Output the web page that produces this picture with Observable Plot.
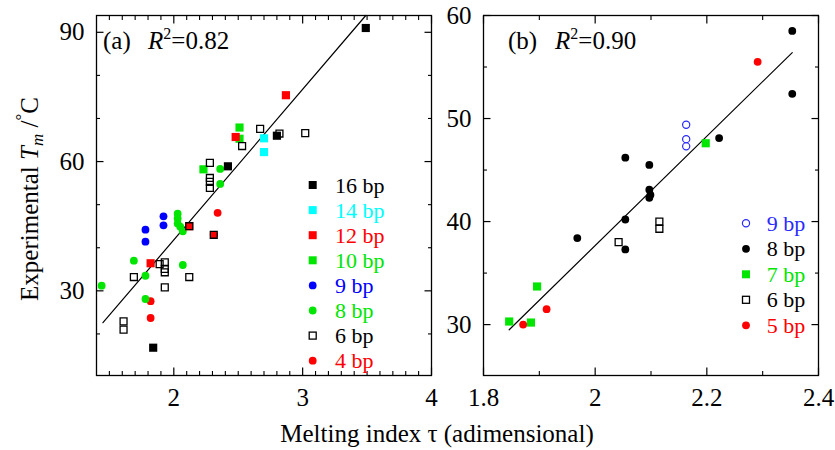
<!DOCTYPE html>
<html><head><meta charset="utf-8">
<script src="https://cdn.jsdelivr.net/npm/d3@7"></script>
<script src="https://cdn.jsdelivr.net/npm/@observablehq/plot@0.6"></script>
<style>
body{margin:0;background:#fff;}
#wrap{position:relative;width:835px;height:450px;font-family:"Liberation Serif","Times New Roman",serif;color:#000;}
#wrap svg, #wrap svg text, #wrap svg tspan{font-family:"Liberation Serif","Times New Roman",serif !important;}
#pa{position:absolute;left:0;top:0;}
#pb{position:absolute;left:440px;top:0;}
#xt{position:absolute;top:421px;left:437px;transform:translateX(-50%);font-size:25px;line-height:25px;white-space:nowrap;}
</style></head><body>
<div id="wrap"><div id="pa"></div><div id="pb"></div><div id="xt"></div></div>
<script>
// ---------- data: panel (a) ----------
const a_16bp = [[3.49,91.0],[2.80,66.0],[2.42,58.9],[1.84,16.8]];
const a_14bp = [[2.70,65.4],[2.70,62.2]];
const a_12bp = [[2.87,75.4],[2.48,65.7],[2.12,45.0],[1.82,36.4]];
const a_10bp = [[2.51,67.9],[2.51,65.3],[2.23,58.2]];
const a_9bp  = [[1.92,47.3],[1.92,45.2],[1.78,44.2],[1.78,41.4]];
const a_8bp  = [[2.36,58.3],[2.36,54.8],[2.03,47.9],[2.03,46.8],[2.03,45.6],[2.05,44.9],[2.07,43.8],[1.69,37.0],[2.07,36.0],[1.78,33.5],[1.44,31.2],[1.78,28.1]];
const a_6bp  = [[2.28,59.7],[2.28,56.2],[2.28,55.3],[2.28,53.9],[2.53,63.6],[2.67,67.6],[3.02,66.6],[2.82,66.5],[2.12,45.0],[2.31,43.0],[1.89,36.2],[1.93,36.6],[1.93,35.1],[1.93,34.3],[1.69,33.2],[2.12,33.2],[1.93,30.8],[1.61,22.9],[1.61,21.0]];
const a_4bp  = [[2.34,48.1],[2.31,43.0],[1.82,27.6],[1.82,23.7]];
const fitA = [[1.45,22.6],[3.49,93.9]];
// ---------- data: panel (b) ----------
const b_9bp = [[2.163,49.4],[2.163,48.0],[2.163,47.3]];
const b_8bp = [[2.353,58.5],[2.353,52.4],[2.222,48.1],[2.054,46.2],[2.097,45.5],[2.097,43.1],[2.099,42.6],[2.097,42.3],[2.054,40.2],[1.968,38.4],[2.054,37.3]];
const b_7bp = [[2.198,47.6],[1.896,33.7],[1.846,30.3],[1.885,30.2]];
const b_6bp = [[2.042,38.0],[2.115,40.0],[2.115,39.3]];
const b_5bp = [[2.291,55.5],[1.913,31.5],[1.871,30.0]];
const fitB = [[1.846,29.5],[2.353,56.4]];
// ---------- ticks & labels ----------
const xTicksA = [2,3,4];
const yTicksA = [30,60,90];
const xTicksB = [1.8,2,2.2,2.4];
const yTicksB = [30,40,50,60];
const panelLabels = ["(a)","(b)"];
const r2Values = ["0.82","0.90"];
const xTitle = "Melting index τ (adimensional)";
const yTitle = ["Experimental ","T","m"," /","°","C"];

// ---------- styles ----------
const FONT = '"Liberation Serif","Times New Roman",serif';
const GREEN = "#00e600", CYAN = "#00ffff", RED = "#ff0000", BLUE = "#0000ff", OBLUE = "#2a2aff";
const seriesA = [
  {name:"16 bp", data:a_16bp, kind:"sq", color:"#000"},
  {name:"14 bp", data:a_14bp, kind:"sq", color:CYAN},
  {name:"12 bp", data:a_12bp, kind:"sq", color:RED},
  {name:"10 bp", data:a_10bp, kind:"sq", color:GREEN},
  {name:"9 bp",  data:a_9bp,  kind:"ci", color:BLUE},
  {name:"8 bp",  data:a_8bp,  kind:"ci", color:GREEN},
  {name:"6 bp",  data:a_6bp,  kind:"osq", color:"#000"},
  {name:"4 bp",  data:a_4bp,  kind:"ci", color:RED}
];
const drawOrderA = ["4 bp","8 bp","9 bp","10 bp","12 bp","14 bp","16 bp","6 bp"];
const seriesB = [
  {name:"9 bp", data:b_9bp, kind:"oci", color:OBLUE},
  {name:"8 bp", data:b_8bp, kind:"ci", color:"#000"},
  {name:"7 bp", data:b_7bp, kind:"sq", color:GREEN},
  {name:"6 bp", data:b_6bp, kind:"osq", color:"#000"},
  {name:"5 bp", data:b_5bp, kind:"ci", color:RED}
];
const drawOrderB = ["8 bp","7 bp","5 bp","6 bp","9 bp"];

function dotMark(s) {
  const rows = s.data.map(([x,y]) => ({x,y}));
  const base = {x:"x", y:"y"};
  if (s.kind === "sq") return Plot.dot(rows, {...base, symbol:"square", r:4.6, fill:s.color, stroke:"none"});
  if (s.kind === "osq") return Plot.dot(rows, {...base, symbol:"square", r:3.9, fill:"none", stroke:s.color, strokeWidth:1.3});
  if (s.kind === "oci") return Plot.dot(rows, {...base, symbol:"circle", r:3.6, fill:"none", stroke:s.color, strokeWidth:1.2});
  return Plot.dot(rows, {...base, symbol:"circle", r:3.9, fill:s.color, stroke:"none"});
}

function axes(xMajor, xMinor, yMajor, yMinor) {
  const blank = () => "";
  const fmt = d3.format("~g");
  return [
    Plot.axisX({anchor:"bottom", ticks:xMinor, tickSize:-4, tickFormat:blank, label:null, strokeWidth:1.1}),
    Plot.axisX({anchor:"bottom", ticks:xMajor, tickSize:-7.5, tickFormat:blank, label:null, strokeWidth:1.2}),
    Plot.axisX({anchor:"top", ticks:xMinor, tickSize:-4, tickFormat:blank, label:null, strokeWidth:1.1}),
    Plot.axisX({anchor:"top", ticks:xMajor, tickSize:-7.5, tickFormat:blank, label:null, strokeWidth:1.2}),
    Plot.axisX({anchor:"bottom", ticks:xMajor, tickSize:0, tickPadding:13, tickFormat:fmt, label:null, fontFamily:FONT}),
    Plot.axisY({anchor:"left", ticks:yMinor, tickSize:-4, tickFormat:blank, label:null, strokeWidth:1.1}),
    Plot.axisY({anchor:"left", ticks:yMajor, tickSize:-7.5, tickFormat:blank, label:null, strokeWidth:1.2}),
    Plot.axisY({anchor:"right", ticks:yMinor, tickSize:-4, tickFormat:blank, label:null, strokeWidth:1.1}),
    Plot.axisY({anchor:"right", ticks:yMajor, tickSize:-7.5, tickFormat:blank, label:null, strokeWidth:1.2}),
    Plot.axisY({anchor:"left", ticks:yMajor, tickSize:0, tickPadding:12, tickFormat:fmt, label:null, fontFamily:FONT})
  ];
}

const plotStyle = {fontFamily:FONT, fontSize:"25px", background:"transparent", overflow:"visible", color:"#000"};

function orderSeries(series, order) { return order.map(n => series.find(s => s.name === n)); }

// ---------- panel (a) ----------
const svgA = Plot.plot({
  width:440, height:410, marginLeft:96, marginRight:9, marginTop:15, marginBottom:35,
  x:{domain:[1.4,4.0]}, y:{domain:[10.35,93.9]},
  style:plotStyle,
  marks:[
    Plot.line(fitA.map(([x,y])=>({x,y})), {x:"x", y:"y", stroke:"#000", strokeWidth:1.2}),
    ...orderSeries(seriesA, drawOrderA).map(dotMark),
    Plot.frame({stroke:"#000", strokeWidth:1.3}),
    ...axes(xTicksA, d3.range(15,40).map(d=>d/10).filter(v=>!xTicksA.includes(v)),
            yTicksA, d3.range(20,100,10).filter(v=>!yTicksA.includes(v)))
  ]
});
// ---------- panel (b) ----------
const svgB = Plot.plot({
  width:395, height:410, marginLeft:43, marginRight:17, marginTop:15, marginBottom:35,
  x:{domain:[1.8,2.4]}, y:{domain:[25.06,60]},
  style:plotStyle,
  marks:[
    Plot.line(fitB.map(([x,y])=>({x,y})), {x:"x", y:"y", stroke:"#000", strokeWidth:1.2}),
    ...orderSeries(seriesB, drawOrderB).map(dotMark),
    Plot.frame({stroke:"#000", strokeWidth:1.3}),
    ...axes(xTicksB, [1.9,2.1,2.3],
            yTicksB, [35,45,55])
  ]
});
document.getElementById("pa").appendChild(svgA);
document.getElementById("pb").appendChild(svgB);
document.getElementById("xt").textContent = xTitle;

// ---------- annotations ----------
function panelLabel(svg, i, x0, xR) {
  const t = d3.select(svg).append("text").attr("x", x0).attr("y", 49)
    .attr("font-size", 25).attr("fill", "#000").attr("text-anchor","start").attr("font-family", FONT);
  t.append("tspan").text(panelLabels[i]);
  t.append("tspan").attr("x", xR).attr("font-style","italic").text("R");
  t.append("tspan").attr("font-size", 16).attr("dy", -10).text("2");
  t.append("tspan").attr("dy", 10).text("=" + r2Values[i]);
}
panelLabel(svgA, 0, 103, 148);
panelLabel(svgB, 1, 68, 115);

// y title
{
  const t = d3.select(svgA).append("text").attr("transform","translate(38,199) rotate(-90)")
    .attr("text-anchor","middle").attr("font-size",25).attr("fill","#000").attr("font-family", FONT);
  t.append("tspan").text(yTitle[0]);
  t.append("tspan").attr("font-style","italic").text(yTitle[1]);
  t.append("tspan").attr("font-style","italic").attr("font-size",17).attr("dy",5).text(yTitle[2]);
  t.append("tspan").attr("dy",-5).text(yTitle[3]);
  t.append("tspan").attr("font-size",17).attr("dy",-11).text(yTitle[4]);
  t.append("tspan").attr("dy",11).text(yTitle[5]);
}

// legends
function legend(svg, series, sx, tx, y0, step) {
  const g = d3.select(svg).append("g").attr("text-anchor","start").attr("font-family", FONT);
  series.forEach((s, i) => {
    const cy = y0 + i * step;
    if (s.kind === "sq") g.append("rect").attr("x", sx-4).attr("y", cy-4).attr("width",8).attr("height",8).attr("fill", s.color);
    else if (s.kind === "osq") g.append("rect").attr("x", sx-3.5).attr("y", cy-3.5).attr("width",7).attr("height",7).attr("fill","none").attr("stroke", s.color).attr("stroke-width",1.3);
    else if (s.kind === "oci") g.append("circle").attr("cx", sx).attr("cy", cy).attr("r",3.6).attr("fill","none").attr("stroke", s.color).attr("stroke-width",1.2);
    else g.append("circle").attr("cx", sx).attr("cy", cy).attr("r",3.9).attr("fill", s.color);
    g.append("text").attr("x", tx).attr("y", cy + 7.5).attr("font-size", 22).attr("fill", s.color).text(s.name);
  });
}
legend(svgA, seriesA, 312.7, 335, 185, 25.1);
legend(svgB, seriesB, 306, 326.7, 223.3, 25.5);
</script>
</body></html>
